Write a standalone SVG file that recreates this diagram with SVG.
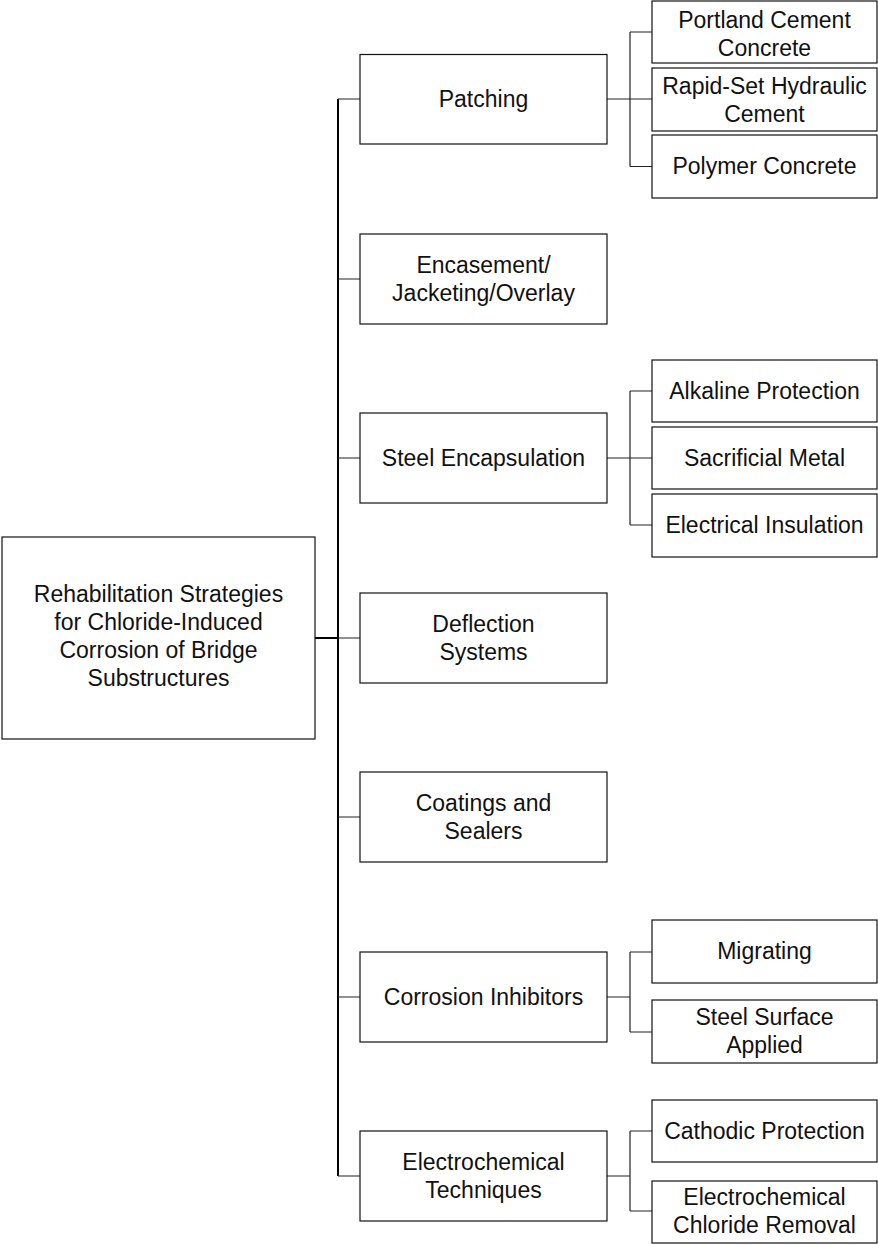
<svg xmlns="http://www.w3.org/2000/svg" width="878" height="1245" viewBox="0 0 878 1245">
<style>
.box{fill:#fff;stroke:#111;stroke-width:1.2}
.t{font-family:"Liberation Sans",Arial,sans-serif;font-size:23px;fill:#111;text-anchor:middle}
.c{stroke:#222;stroke-width:1.2;fill:none}
.trunk{stroke:#000;stroke-width:2;fill:none}
</style>
<rect width="878" height="1245" fill="#fff"/>
<g id="connectors">
<line class="trunk" x1="315" y1="638" x2="338" y2="638"/>
<line class="trunk" x1="338" y1="99" x2="338" y2="1176"/>
<path class="c" d="M338 99H360M338 279H360M338 458H360M338 638H360M338 817H360M338 997H360M338 1176H360"/>
<path class="c" d="M607 99H652M630 32V166.5M630 32H652M630 166.5H652"/>
<path class="c" d="M607 458H652M630 391V525M630 391H652M630 525H652"/>
<path class="c" d="M607 997H630M630 952V1032M630 952H652M630 1032H652"/>
<path class="c" d="M607 1176H630M630 1131V1211M630 1131H652M630 1211H652"/>
</g>
<g id="root">
<rect class="box" x="2" y="537" width="313" height="202"/>
<text class="t" x="158.5"><tspan x="158.5" y="602">Rehabilitation Strategies</tspan><tspan x="158.5" y="630">for Chloride-Induced</tspan><tspan x="158.5" y="658">Corrosion of Bridge</tspan><tspan x="158.5" y="686">Substructures</tspan></text>
</g>
<g id="patching">
<rect class="box" x="360" y="54.5" width="247" height="89.5"/>
<text class="t" x="483.5" y="107">Patching</text>
</g>
<g id="encasement">
<rect class="box" x="360" y="234" width="247" height="90"/>
<text class="t"><tspan x="483.5" y="273">Encasement/</tspan><tspan x="483.5" y="301">Jacketing/Overlay</tspan></text>
</g>
<g id="steel-encapsulation">
<rect class="box" x="360" y="413" width="247" height="90"/>
<text class="t" x="483.5" y="466">Steel Encapsulation</text>
</g>
<g id="deflection">
<rect class="box" x="360" y="593" width="247" height="90"/>
<text class="t"><tspan x="483.5" y="632">Deflection</tspan><tspan x="483.5" y="660">Systems</tspan></text>
</g>
<g id="coatings">
<rect class="box" x="360" y="772" width="247" height="90"/>
<text class="t"><tspan x="483.5" y="811">Coatings and</tspan><tspan x="483.5" y="839">Sealers</tspan></text>
</g>
<g id="corrosion-inhibitors">
<rect class="box" x="360" y="952" width="247" height="90"/>
<text class="t" x="483.5" y="1005">Corrosion Inhibitors</text>
</g>
<g id="electrochemical">
<rect class="box" x="360" y="1131" width="247" height="90"/>
<text class="t"><tspan x="483.5" y="1170">Electrochemical</tspan><tspan x="483.5" y="1198">Techniques</tspan></text>
</g>
<g id="portland">
<rect class="box" x="652" y="1" width="225" height="62"/>
<text class="t"><tspan x="764.5" y="28">Portland Cement</tspan><tspan x="764.5" y="56">Concrete</tspan></text>
</g>
<g id="rapid-set">
<rect class="box" x="652" y="68" width="225" height="63"/>
<text class="t"><tspan x="764.5" y="94">Rapid-Set Hydraulic</tspan><tspan x="764.5" y="122">Cement</tspan></text>
</g>
<g id="polymer">
<rect class="box" x="652" y="135" width="225" height="63"/>
<text class="t" x="764.5" y="174">Polymer Concrete</text>
</g>
<g id="alkaline">
<rect class="box" x="652" y="360" width="225" height="62"/>
<text class="t" x="764.5" y="399">Alkaline Protection</text>
</g>
<g id="sacrificial">
<rect class="box" x="652" y="427" width="225" height="62"/>
<text class="t" x="764.5" y="466">Sacrificial Metal</text>
</g>
<g id="insulation">
<rect class="box" x="652" y="494" width="225" height="63"/>
<text class="t" x="764.5" y="533">Electrical Insulation</text>
</g>
<g id="migrating">
<rect class="box" x="652" y="920" width="225" height="63"/>
<text class="t" x="764.5" y="959">Migrating</text>
</g>
<g id="steel-surface">
<rect class="box" x="652" y="1000" width="225" height="63"/>
<text class="t"><tspan x="764.5" y="1025">Steel Surface</tspan><tspan x="764.5" y="1053">Applied</tspan></text>
</g>
<g id="cathodic">
<rect class="box" x="652" y="1100" width="225" height="62"/>
<text class="t" x="764.5" y="1139">Cathodic Protection</text>
</g>
<g id="chloride-removal">
<rect class="box" x="652" y="1181" width="225" height="62"/>
<text class="t"><tspan x="764.5" y="1205">Electrochemical</tspan><tspan x="764.5" y="1233">Chloride Removal</tspan></text>
</g>
</svg>
